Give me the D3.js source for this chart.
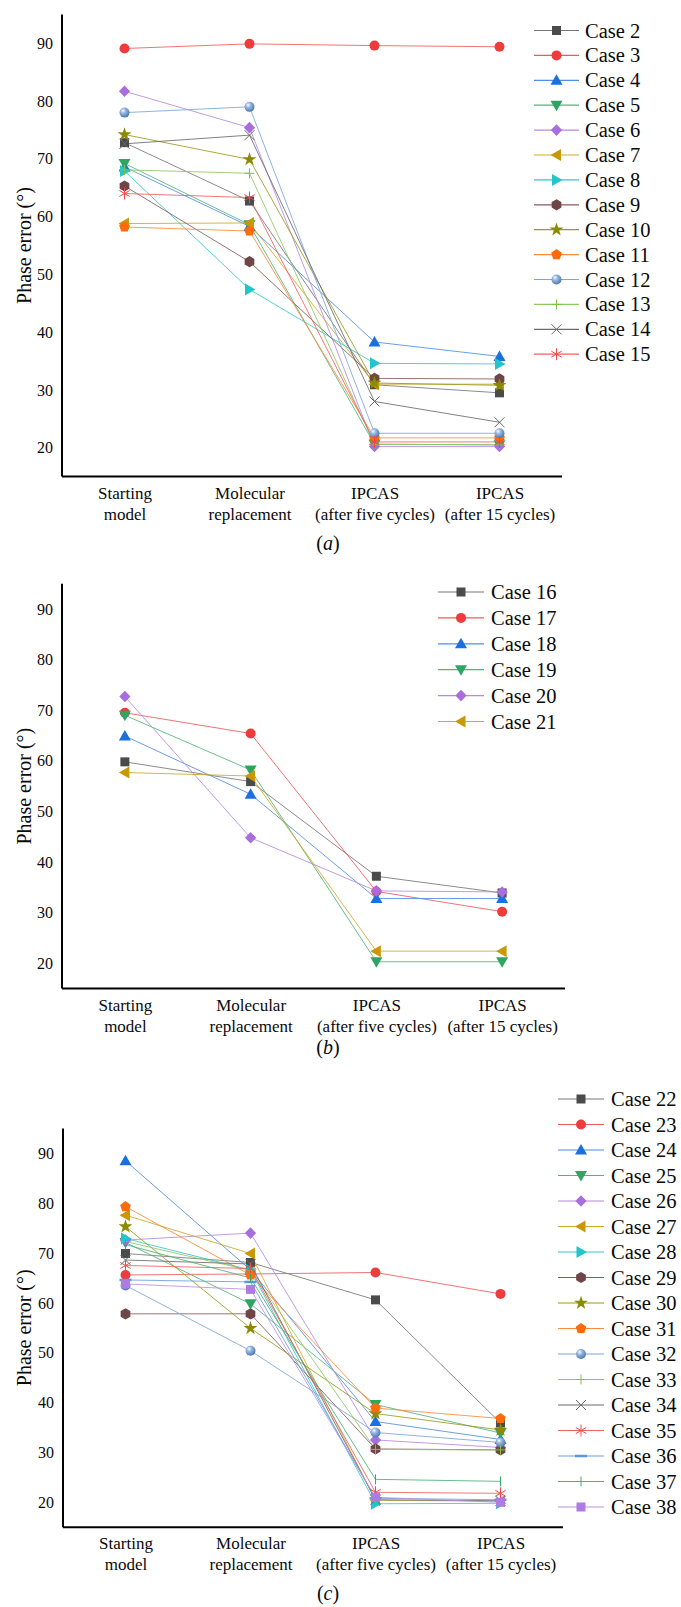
<!DOCTYPE html>
<html>
<head>
<meta charset="utf-8">
<script src="https://cdn.jsdelivr.net/npm/d3@7"></script>
<style>
  html, body { margin: 0; padding: 0; background: #fff; }
  svg { display: block; }
</style>
</head>
<body>
<svg id="chart" width="681" height="1607"></svg>
<script>
// ---------- DATA ----------
const categories = [["Starting", "model"], ["Molecular", "replacement"], ["IPCAS", "(after five cycles)"], ["IPCAS", "(after 15 cycles)"]];
const yTicks = [20, 30, 40, 50, 60, 70, 80, 90];
const yTitle = "Phase error (°)";

const casesA = ["Case 2", "Case 3", "Case 4", "Case 5", "Case 6", "Case 7", "Case 8", "Case 9", "Case 10", "Case 11", "Case 12", "Case 13", "Case 14", "Case 15"];
const valuesA = [
  [72.8, 62.7, 30.9, 29.5],
  [89.1, 89.9, 89.6, 89.4],
  [68.6, 58.3, 38.3, 35.8],
  [69.2, 58.6, 20.6, 20.5],
  [81.7, 75.4, 20.2, 20.2],
  [58.8, 58.9, 31.0, 31.0],
  [67.9, 47.4, 34.6, 34.5],
  [65.3, 52.2, 32.0, 31.9],
  [74.2, 69.9, 31.2, 30.8],
  [58.2, 57.5, 21.7, 21.7],
  [78.0, 79.0, 22.5, 22.5],
  [68.1, 67.5, 20.6, 20.5],
  [72.6, 74.1, 28.0, 24.4],
  [64.0, 63.3, 21.0, 21.0]
];

const casesB = ["Case 16", "Case 17", "Case 18", "Case 19", "Case 20", "Case 21"];
const valuesB = [
  [59.8, 55.9, 37.2, 33.9],
  [69.5, 65.4, 34.2, 30.2],
  [64.9, 53.4, 32.8, 32.8],
  [69.0, 58.2, 20.3, 20.3],
  [72.7, 44.8, 34.3, 34.1],
  [57.7, 57.0, 22.4, 22.4]
];

const casesC = ["Case 22", "Case 23", "Case 24", "Case 25", "Case 26", "Case 27", "Case 28", "Case 29", "Case 30", "Case 31", "Case 32", "Case 33", "Case 34", "Case 35", "Case 36", "Case 37", "Case 38"];
const valuesC = [
  [69.9, 68.1, 60.6, 35.9],
  [65.6, 65.8, 66.1, 61.8],
  [88.5, 66.6, 36.2, 32.6],
  [72.1, 59.8, 39.6, 33.9],
  [72.6, 74.0, 32.5, 31.0],
  [77.6, 69.9, 20.4, 20.2],
  [72.9, 66.6, 19.7, 19.8],
  [57.8, 57.8, 30.7, 30.5],
  [75.3, 54.9, 37.8, 34.5],
  [79.3, 65.6, 38.9, 36.8],
  [63.5, 50.4, 34.0, 32.0],
  [72.3, 66.5, 30.6, 30.5],
  [68.6, 67.8, 20.5, 20.3],
  [67.5, 66.9, 22.0, 21.8],
  [64.6, 64.2, 20.8, 20.5],
  [71.7, 65.0, 24.6, 24.2],
  [63.8, 62.7, 21.0, 20.0]
];

// ---------- STYLES ----------
const FONT = "'Liberation Serif', 'Times New Roman', Tinos, serif";
const TEXT = "#0a0a0a";
const styles = [
  { shape: "square",        color: "#4b4b4b", line: "#777777" },
  { shape: "circle",        color: "#ee3b3b", line: "#ee5a5a" },
  { shape: "triangle",      color: "#1b6fe0", line: "#4f8ee0" },
  { shape: "triangleDown",  color: "#2fa463", line: "#50b47c" },
  { shape: "diamond",       color: "#a86ddf", line: "#b58ae0" },
  { shape: "triangleLeft",  color: "#c99806", line: "#d1a62a" },
  { shape: "triangleRight", color: "#1fc6cc", line: "#35c8cc" },
  { shape: "hexagon",       color: "#6f4545", line: "#855d5d" },
  { shape: "star",          color: "#8b8b00", line: "#9a9a20" },
  { shape: "pentagon",      color: "#ff6a0a", line: "#ff8a3a" },
  { shape: "sphere",        color: "#5b8fd2", line: "#7aa4da" },
  { shape: "plus",          color: "#7cc142", line: "#8ec860" },
  { shape: "x",             color: "#6b6b6b", line: "#6b6b6b" },
  { shape: "asterisk",      color: "#f04848", line: "#f06060" },
  { shape: "dash",          color: "#5f95dc", line: "#6a9ddc" },
  { shape: "vtick",         color: "#3aa86a", line: "#4cb078" },
  { shape: "square",        color: "#b07be0", line: "#b890e0" }
];

const svg = d3.select("#chart").attr("font-family", FONT).style("font-family", FONT);
const defs = svg.append("defs");

function sphereGrad(color, id) {
  const g = defs.append("radialGradient").attr("id", id)
    .attr("cx", "40%").attr("cy", "35%").attr("r", "65%").attr("fx", "35%").attr("fy", "30%");
  g.append("stop").attr("offset", "0%").attr("stop-color", "#ffffff");
  g.append("stop").attr("offset", "35%").attr("stop-color", d3.interpolateRgb("#ffffff", color)(0.6));
  g.append("stop").attr("offset", "100%").attr("stop-color", d3.color(color).darker(0.5));
}
styles.forEach((s, i) => { if (s.shape === "sphere") sphereGrad(s.color, "sph" + i); });

function polygon(n, r, rot) {
  const pts = d3.range(n).map(k => {
    const a = rot + k * 2 * Math.PI / n;
    return [r * Math.cos(a), r * Math.sin(a)];
  });
  return "M" + pts.map(p => p.join(",")).join("L") + "Z";
}

function drawMarker(g, x, y, si) {
  const s = styles[si];
  const m = g.append("g").attr("transform", `translate(${x},${y})`);
  const c = s.color;
  switch (s.shape) {
    case "square":
      m.append("rect").attr("x", -4.5).attr("y", -4.5).attr("width", 9).attr("height", 9).attr("fill", c);
      break;
    case "circle":
      m.append("circle").attr("r", 5).attr("fill", c);
      break;
    case "sphere":
      m.append("circle").attr("r", 5).attr("fill", `url(#sph${si})`);
      break;
    case "triangle":
      m.append("path").attr("d", "M0,-6L6,4.5L-6,4.5Z").attr("fill", c);
      break;
    case "triangleDown":
      m.append("path").attr("d", "M0,6L6,-4.5L-6,-4.5Z").attr("fill", c);
      break;
    case "triangleLeft":
      m.append("path").attr("d", "M-6,0L4.5,-6L4.5,6Z").attr("fill", c);
      break;
    case "triangleRight":
      m.append("path").attr("d", "M6,0L-4.5,-6L-4.5,6Z").attr("fill", c);
      break;
    case "diamond":
      m.append("path").attr("d", "M0,-5.8L5.6,0L0,5.8L-5.6,0Z").attr("fill", c);
      break;
    case "hexagon":
      m.append("path").attr("d", polygon(6, 5.6, -Math.PI / 2)).attr("fill", c);
      break;
    case "pentagon":
      m.append("path").attr("d", polygon(5, 5.6, -Math.PI / 2)).attr("fill", c);
      break;
    case "star":
      m.append("path").attr("d", d3.symbol(d3.symbolStar, 60)()).attr("fill", c);
      break;
    case "plus":
      m.append("path").attr("d", "M-5,0H5M0,-5V5").attr("stroke", c).attr("stroke-width", 1).attr("fill", "none");
      break;
    case "x":
      m.append("path").attr("d", "M-5,-5L5,5M-5,5L5,-5").attr("stroke", c).attr("stroke-width", 1).attr("fill", "none");
      break;
    case "asterisk":
      m.append("path").attr("d", "M0,-6V6M-5.2,-3L5.2,3M-5.2,3L5.2,-3").attr("stroke", c).attr("stroke-width", 1).attr("fill", "none");
      break;
    case "dash":
      m.append("path").attr("d", "M-6,0H6").attr("stroke", c).attr("stroke-width", 2.5).attr("fill", "none");
      break;
    case "vtick":
      m.append("path").attr("d", "M0,-5V5").attr("stroke", c).attr("stroke-width", 1).attr("fill", "none");
      break;
  }
}

function addText(sel) {
  return sel.append("text").style("font-family", FONT).attr("fill", TEXT);
}

function drawPanel(cfg) {
  const { cases, values, x0, x1, yTop, yBot, legend, caption } = cfg;
  const g = svg.append("g");
  const x = d3.scalePoint().domain(d3.range(categories.length)).range([x0, x1]).padding(0.5);
  const y = d3.scaleLinear().domain([15, 95]).range([yBot, yTop]);

  // lines
  const line = d3.line().x((d, i) => x(i)).y(d => y(d));
  values.forEach((vals, k) => {
    g.append("path").attr("d", line(vals)).attr("fill", "none")
      .attr("stroke", styles[k].line).attr("stroke-width", 1).attr("stroke-opacity", 0.85);
  });
  // markers
  values.forEach((vals, k) => {
    vals.forEach((v, i) => drawMarker(g, x(i), y(v), k));
  });

  // y axis
  const yAxis = d3.axisLeft(y).tickValues(yTicks).tickSize(0).tickPadding(9);
  const ya = g.append("g").attr("transform", `translate(${x0},0)`).call(yAxis);
  ya.attr("font-family", null);
  ya.select(".domain").attr("stroke", "#000").attr("stroke-width", 2).attr("d", `M0,${yTop}V${yBot}`);
  ya.selectAll("text").attr("font-size", 16).style("font-family", FONT).attr("fill", TEXT);

  // x axis
  const xAxis = d3.axisBottom(x).tickSize(0).tickFormat(() => "");
  const xa = g.append("g").attr("transform", `translate(0,${yBot})`).call(xAxis);
  xa.attr("font-family", null);
  xa.select(".domain").attr("stroke", "#000").attr("stroke-width", 2).attr("d", `M${x0},0H${x1}`);
  xa.selectAll(".tick").each(function (d) {
    const t = addText(d3.select(this)).attr("font-size", 17).attr("text-anchor", "middle");
    t.append("tspan").attr("x", 0).attr("y", 22).text(categories[d][0]);
    t.append("tspan").attr("x", 0).attr("y", 43).text(categories[d][1]);
  });

  // y title
  addText(g).attr("transform", `translate(31,${(yTop + yBot) / 2}) rotate(-90)`)
    .attr("text-anchor", "middle").attr("font-size", 20).text(yTitle);

  // caption
  if (caption) {
    const t = addText(g).attr("x", caption.x).attr("y", caption.y).attr("text-anchor", "middle")
      .attr("font-size", 20);
    t.append("tspan").text("(");
    t.append("tspan").attr("font-style", "italic").text(caption.letter);
    t.append("tspan").text(")");
  }

  // legend
  cases.forEach((name, k) => {
    const ly = legend.y + k * legend.dy;
    g.append("path").attr("d", `M${legend.x0},${ly}H${legend.x1}`)
      .attr("stroke", styles[k].line).attr("stroke-width", 1.2).attr("fill", "none");
    drawMarker(g, (legend.x0 + legend.x1) / 2, ly, k);
    addText(g).attr("x", legend.tx).attr("y", ly + 7).attr("font-size", 20.5).text(name);
  });
}

drawPanel({
  cases: casesA, values: valuesA, x0: 62, x1: 562, yTop: 14.4, yBot: 476.6,
  legend: { x0: 534, x1: 579, tx: 585, y: 30.5, dy: 24.9 },
  caption: { x: 328, y: 550, letter: "a" }
});
drawPanel({
  cases: casesB, values: valuesB, x0: 62, x1: 565, yTop: 583.7, yBot: 988.6,
  legend: { x0: 438, x1: 484, tx: 491, y: 592, dy: 25.9 },
  caption: { x: 328, y: 1054, letter: "b" }
});
drawPanel({
  cases: casesC, values: valuesC, x0: 63, x1: 563, yTop: 1128.4, yBot: 1527.2,
  legend: { x0: 558, x1: 604, tx: 611, y: 1099, dy: 25.5 },
  caption: { x: 328, y: 1600, letter: "c" }
});
</script>
</body>
</html>
